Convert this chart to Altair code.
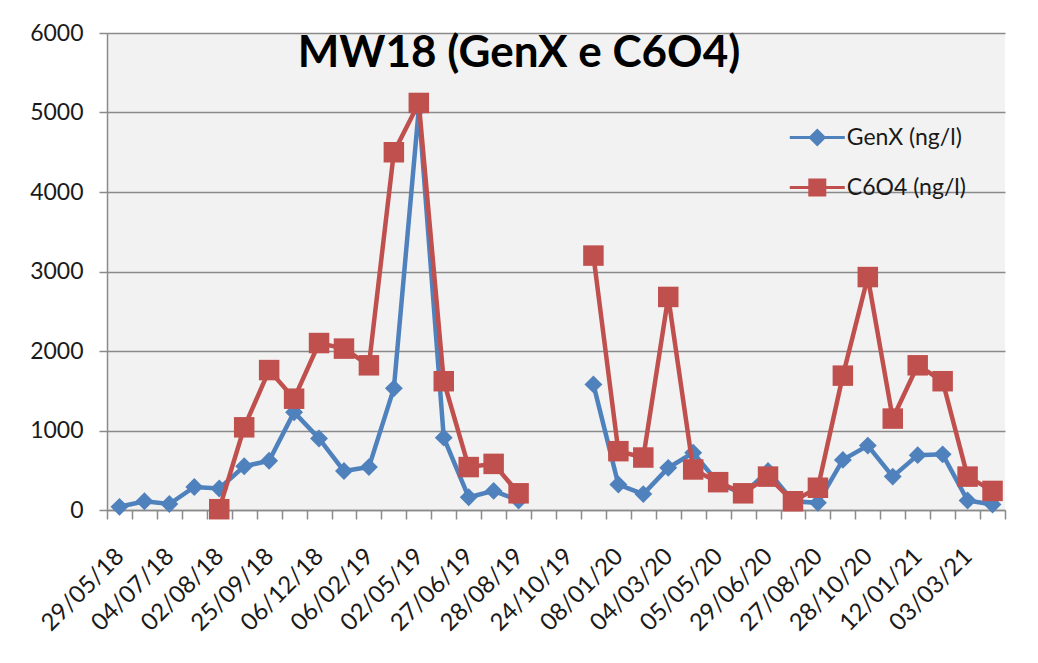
import altair as alt
import pandas as pd

# ---------------- data ----------------
tick_labels = ["29/05/18", "04/07/18", "02/08/18", "25/09/18", "06/12/18", "06/02/19",
               "02/05/19", "27/06/19", "28/08/19", "24/10/19", "08/01/20", "04/03/20",
               "05/05/20", "29/06/20", "27/08/20", "28/10/20", "12/01/21", "03/03/21"]

genx = [40, 110, 75, 290, 270, 550, 620, 1230, 900, 490, 540, 1530, 5050, 910, 160, 240, 120,
        None, None,
        1580, 320, 200, 530, 720, 340, 200, 490, 110, 90, 630, 810, 420, 690, 700, 120, 70]

c6o4 = [None, None, None, None,
        10, 1040, 1760, 1400, 2100, 2030, 1820, 4500, 5120, 1620, 540, 580, 210,
        None, None,
        3200, 740, 660, 2680, 510, 350, 210, 420, 110, 280, 1690, 2930, 1150, 1820, 1620, 420, 240]

series_names = ["GenX (ng/l)", "C6O4 (ng/l)"]
series_colors = ["#4f81bd", "#c0504d"]
y_ticks = [0, 1000, 2000, 3000, 4000, 5000, 6000]

# ---------------- styling ----------------
GRAY = "#8a8a8a"
TEXT = "#1a1a1a"
FONT = "Lato"
PLOT_BG = "#f2f2f2"
n = len(genx)

legend_shapes = [
    "M-2.75,-0.15L2.75,-0.15L2.75,0.15L-2.75,0.15Z M0,-0.9L0.9,0L0,0.9L-0.9,0Z",
    "M-2.75,-0.15L2.75,-0.15L2.75,0.15L-2.75,0.15Z M-0.9,-0.9L0.9,-0.9L0.9,0.9L-0.9,0.9Z",
]

df = pd.DataFrame({"idx": list(range(n)), "genx": genx, "c6o4": c6o4})
legend_df = pd.DataFrame({"series": series_names})

x_scale = alt.Scale(domain=[-0.5, n - 0.5], nice=False, zero=False)
y_scale = alt.Scale(domain=[0, 6000], nice=False)

tick_axis = alt.Axis(orient="bottom", values=[i - 0.5 for i in range(n + 1)], labels=False, grid=False,
                     ticks=True, tickSize=9, tickColor=GRAY, tickWidth=1.5,
                     domain=True, domainColor=GRAY, domainWidth=1.5, title=None)

label_js = "[" + ",".join("'" + s + "'" for s in tick_labels) + "]"
label_axis = alt.Axis(orient="bottom", values=list(range(0, n, 2)), labelExpr=label_js + "[datum.value/2]",
                      ticks=False, domain=False, grid=False, labelAngle=-45,
                      labelFont=FONT, labelFontSize=24, labelColor=TEXT, labelOffset=-8,
                      labelPadding=34, labelOverlap=False, labelFlush=False, title=None)

y_axis = alt.Axis(values=y_ticks, format="d", grid=True, gridColor=GRAY, gridWidth=1.5,
                  tickSize=8, tickColor=GRAY, tickWidth=1.5,
                  domain=True, domainColor=GRAY, domainWidth=1.5,
                  labelFont=FONT, labelFontSize=23, labelColor=TEXT, labelPadding=16,
                  title=None)

base = alt.Chart(df)

blue_line = base.mark_line(color=series_colors[0], strokeWidth=4.5).encode(
    x=alt.X("idx:Q", scale=x_scale, axis=tick_axis),
    y=alt.Y("genx:Q", scale=y_scale, axis=y_axis),
)
blue_pts = base.mark_point(filled=True, shape="diamond", size=320, color=series_colors[0], opacity=1).encode(
    x=alt.X("idx:Q", scale=x_scale, axis=label_axis),
    y=alt.Y("genx:Q", scale=y_scale, axis=y_axis),
)
red_line = base.mark_line(color=series_colors[1], strokeWidth=4.5).encode(
    x=alt.X("idx:Q", scale=x_scale, axis=None),
    y=alt.Y("c6o4:Q", scale=y_scale, axis=y_axis),
)
red_pts = base.mark_point(filled=True, shape="square", size=420, color=series_colors[1], opacity=1).encode(
    x=alt.X("idx:Q", scale=x_scale, axis=None),
    y=alt.Y("c6o4:Q", scale=y_scale, axis=y_axis),
)

leg = alt.Legend(orient="none", legendX=681, legendY=93, title=None,
                 symbolSize=400, symbolStrokeWidth=0, symbolOffset=17.8,
                 labelOffset=18, rowPadding=26, padding=0,
                 labelFont=FONT, labelFontSize=23, labelColor=TEXT)

legend_layer = alt.Chart(legend_df).mark_point(filled=True, opacity=1).encode(
    color=alt.Color("series:N", scale=alt.Scale(domain=series_names, range=series_colors), legend=leg),
    shape=alt.Shape("series:N", scale=alt.Scale(domain=series_names, range=legend_shapes), legend=leg),
).transform_filter("false")

chart = alt.layer(blue_line, blue_pts, red_line, red_pts, legend_layer).resolve_axis(
    x="independent"
).properties(
    width=898,
    height=477,
    view=alt.ViewBackground(fill=PLOT_BG, strokeWidth=0),
    title=alt.TitleParams("MW18 (GenX e C6O4)", anchor="middle", frame="group",
                          font=FONT, fontSize=44, fontWeight="bold", color="#000000",
                          baseline="alphabetic", offset=0, dx=-37, dy=89),
    autosize=alt.AutoSizeParams(type="none"),
    padding={"left": 99, "top": 25, "right": 20, "bottom": 140},
).configure_view(fill=PLOT_BG, strokeWidth=0)

chart.save("out.html", embed_options={"renderer": "svg", "actions": False})
